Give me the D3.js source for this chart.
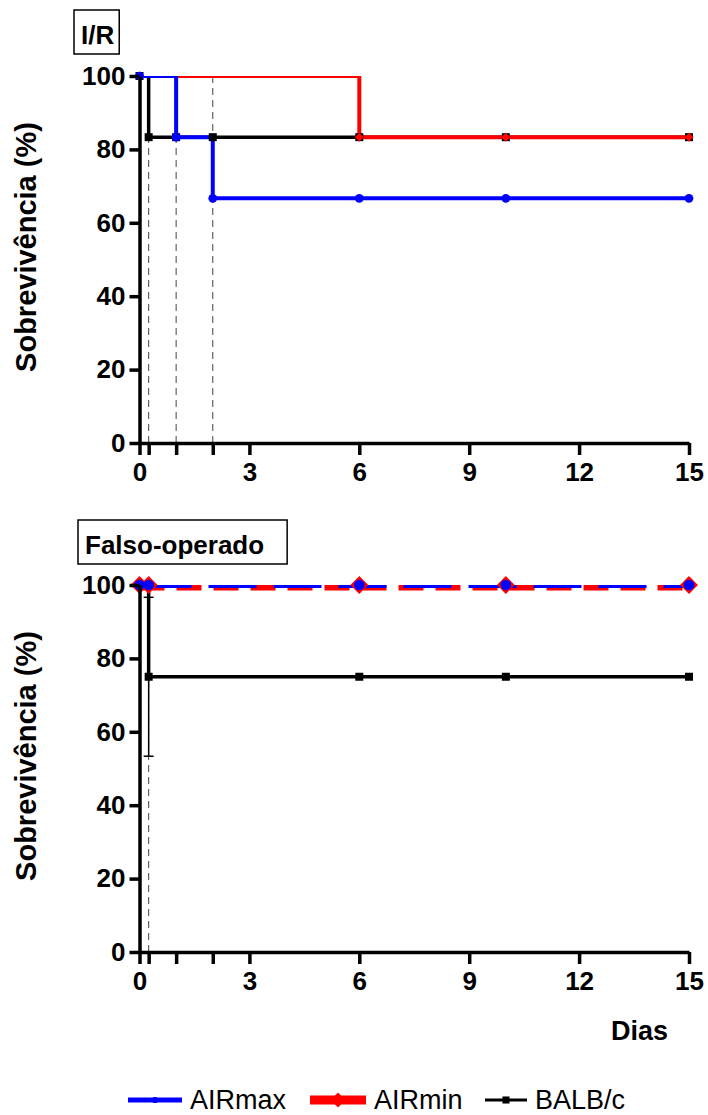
<!DOCTYPE html>
<html>
<head>
<meta charset="utf-8">
<script src="https://cdn.jsdelivr.net/npm/d3@7"></script>
<style>
  body { margin: 0; background: #fff; }
  svg { display: block; font-family: "Liberation Sans", Arial, sans-serif; }
  .axis path, .axis line { stroke: #000; stroke-width: 3.5; }
  .axis text { font-size: 26px; font-weight: bold; fill: #000; }
</style>
</head>
<body>
<div id="chart"></div>
<script>
// x axis ticks (labelled ones and small event ticks)
const xTicks = [0, 0.25, 1, 2, 3, 6, 9, 12, 15];
const xLabels = [0, 3, 6, 9, 12, 15];
const yTicks = [0, 20, 40, 60, 80, 100];

// I/R panel
const irMaxDays = [0, 1, 2, 6, 10, 15];
const irMaxSurv = [100, 83.33, 66.67, 66.67, 66.67, 66.67];
const irMinDays = [0, 6, 10, 15];
const irMinSurv = [100, 83.33, 83.33, 83.33];
const irBalbDays = [0, 0.25, 1, 2, 6, 10, 15];
const irBalbSurv = [100, 83.33, 83.33, 83.33, 83.33, 83.33, 83.33];
const irEventLines = [0.25, 1, 2];

// Falso-operado panel
const shamMaxDays = [0, 0.25, 6, 10, 15];
const shamMaxSurv = [100, 100, 100, 100, 100];
const shamMinDays = [0, 0.25, 6, 10, 15];
const shamMinSurv = [100, 100, 100, 100, 100];
const shamBalbDays = [0, 0.25, 6, 10, 15];
const shamBalbSurv = [100, 75, 75, 75, 75];
const shamBalbErrDay = 0.25;
const shamBalbErr = 21.65;
const shamEventLines = [0.25];

const seriesNames = ["AIRmax", "AIRmin", "BALB/c"];

const svg = d3.select('#chart').append('svg')
    .attr('width', 708)
    .attr('height', 1115);

const zip = (xs, ys) => xs.map((x, i) => ({ day: x, surv: ys[i] }));

function drawPanel(cfg) {
    const x = d3.scaleLinear().domain([0, 15]).range([139.5, 689]);
    const y = d3.scaleLinear().domain([0, 100]).range([cfg.bottom, cfg.bottom - 367]);

    const g = svg.append('g');

    // clip for the curves (Prism clips at axis bounds)
    const clipId = 'clip-' + cfg.id;
    svg.append('clipPath').attr('id', clipId)
        .append('rect')
        .attr('x', x(0) - 3).attr('y', y(100))
        .attr('width', x(15) - x(0) + 6).attr('height', y(0) - y(100));

    // dashed event lines
    g.selectAll('.event')
        .data(cfg.events)
        .join('line')
        .attr('class', 'event')
        .attr('x1', d => x(d)).attr('x2', d => x(d))
        .attr('y1', y(100)).attr('y2', y(0))
        .attr('stroke', '#444')
        .attr('stroke-width', 1)
        .attr('stroke-dasharray', '7,5');

    const line = d3.line()
        .x(d => x(d.day))
        .y(d => y(d.surv))
        .curve(d3.curveStepAfter);

    const curves = g.append('g').attr('clip-path', `url(#${clipId})`);
    const marks = g.append('g');

    cfg.series.forEach(s => {
        const pts = zip(s.days, s.surv);
        curves.append('path')
            .datum(pts)
            .attr('fill', 'none')
            .attr('stroke', s.color)
            .attr('stroke-width', s.width)
            .attr('stroke-dasharray', s.dash || null)
            .attr('stroke-dashoffset', s.dashOffset || 0)
            .attr('d', line);

        if (s.err) {
            const ex = x(s.err.day);
            const ys = [y(s.err.mean - s.err.sem), y(s.err.mean + s.err.sem)];
            marks.append('line')
                .attr('x1', ex).attr('x2', ex)
                .attr('y1', ys[0]).attr('y2', ys[1])
                .attr('stroke', '#000').attr('stroke-width', 1.5);
            marks.selectAll(null)
                .data(ys)
                .join('line')
                .attr('x1', ex - 5).attr('x2', ex + 5)
                .attr('y1', d => d).attr('y2', d => d)
                .attr('stroke', '#000').attr('stroke-width', 1.5);
        }

        marks.selectAll(null)
            .data(pts)
            .join('path')
            .attr('transform', d => `translate(${x(d.day)},${y(d.surv)}) rotate(${s.rotate || 0})`)
            .attr('d', d3.symbol().type(s.symbol).size(s.size))
            .attr('fill', s.color);
    });

    // axes
    g.append('g')
        .attr('class', 'axis')
        .attr('transform', `translate(0,${y(0)})`)
        .call(d3.axisBottom(x)
            .tickValues(xTicks)
            .tickSize(12)
            .tickSizeOuter(0)
            .tickPadding(8)
            .tickFormat(d => xLabels.includes(d) ? d : ''));

    g.append('g')
        .attr('class', 'axis')
        .attr('transform', `translate(${x(0)},0)`)
        .call(d3.axisLeft(y)
            .tickValues(yTicks)
            .tickSize(10)
            .tickSizeOuter(0)
            .tickPadding(4));

    // y label
    g.append('text')
        .attr('transform', `translate(36,${cfg.bottom - 196}) rotate(-90)`)
        .attr('text-anchor', 'middle')
        .style('font-size', '29px')
        .style('font-weight', 'bold')
        .text('Sobrevivência (%)');

    // panel title box
    const tg = g.append('g');
    const box = tg.append('rect')
        .attr('x', cfg.title.x)
        .attr('y', cfg.title.y)
        .attr('height', 44)
        .attr('fill', 'none')
        .attr('stroke', '#000')
        .attr('stroke-width', 1.5);
    const t = tg.append('text')
        .attr('x', cfg.title.x + 7)
        .attr('y', cfg.title.y + 34)
        .style('font-size', '26px')
        .style('font-weight', 'bold')
        .text(cfg.title.text);
    box.attr('width', t.node().getComputedTextLength() + cfg.title.pad);
}

drawPanel({
    id: 'ir',
    bottom: 443,
    events: irEventLines,
    title: { text: 'I/R', x: 74, y: 10, pad: 12 },
    series: [
        { days: irBalbDays, surv: irBalbSurv, color: '#000', width: 3.5, symbol: d3.symbolSquare, size: 64 },
        { days: irMinDays, surv: irMinSurv, color: '#ff0000', width: 4, symbol: d3.symbolSquare, rotate: 45, size: 40 },
        { days: irMaxDays, surv: irMaxSurv, color: '#0000ff', width: 4, symbol: d3.symbolCircle, size: 60 }
    ]
});

drawPanel({
    id: 'sham',
    bottom: 952,
    events: shamEventLines,
    title: { text: 'Falso-operado', x: 78, y: 520, pad: 30 },
    series: [
        { days: shamBalbDays, surv: shamBalbSurv, color: '#000', width: 3.5, symbol: d3.symbolSquare, size: 64,
          err: { day: shamBalbErrDay, mean: 75, sem: shamBalbErr } },
        { days: shamMinDays, surv: shamMinSurv, color: '#ff0000', width: 11, dash: '25,12', symbol: d3.symbolSquare, rotate: 45, size: 160 },
        { days: shamMaxDays, surv: shamMaxSurv, color: '#0000ff', width: 6, dash: '48,17', dashOffset: -4, symbol: d3.symbolCircle, size: 90 }
    ]
});

// x label
svg.append('text')
    .attr('x', 668)
    .attr('y', 1040)
    .attr('text-anchor', 'end')
    .style('font-size', '27px')
    .style('font-weight', 'bold')
    .text('Dias');

// legend
const legendColors = ['#0000ff', '#ff0000', '#000'];
const legendWidths = [5, 9, 3];
const legendSymbols = [d3.symbolCircle, d3.symbolSquare, d3.symbolSquare];
const legendRotate = [0, 45, 0];
const legendSizes = [30, 110, 50];
const legendX = [128, 310, 485];
const legendLen = [54, 56, 42];

const legend = svg.append('g');
seriesNames.forEach((name, i) => {
    const lg = legend.append('g').attr('transform', `translate(${legendX[i]},1100)`);
    lg.append('line')
        .attr('x1', 0).attr('x2', legendLen[i])
        .attr('stroke', legendColors[i])
        .attr('stroke-width', legendWidths[i]);
    lg.append('path')
        .attr('transform', `translate(${legendLen[i] / 2},0) rotate(${legendRotate[i]})`)
        .attr('d', d3.symbol().type(legendSymbols[i]).size(legendSizes[i]))
        .attr('fill', legendColors[i]);
    lg.append('text')
        .attr('x', legendLen[i] + 8)
        .attr('y', 9)
        .style('font-size', '27px')
        .text(name);
});
</script>
</body>
</html>
